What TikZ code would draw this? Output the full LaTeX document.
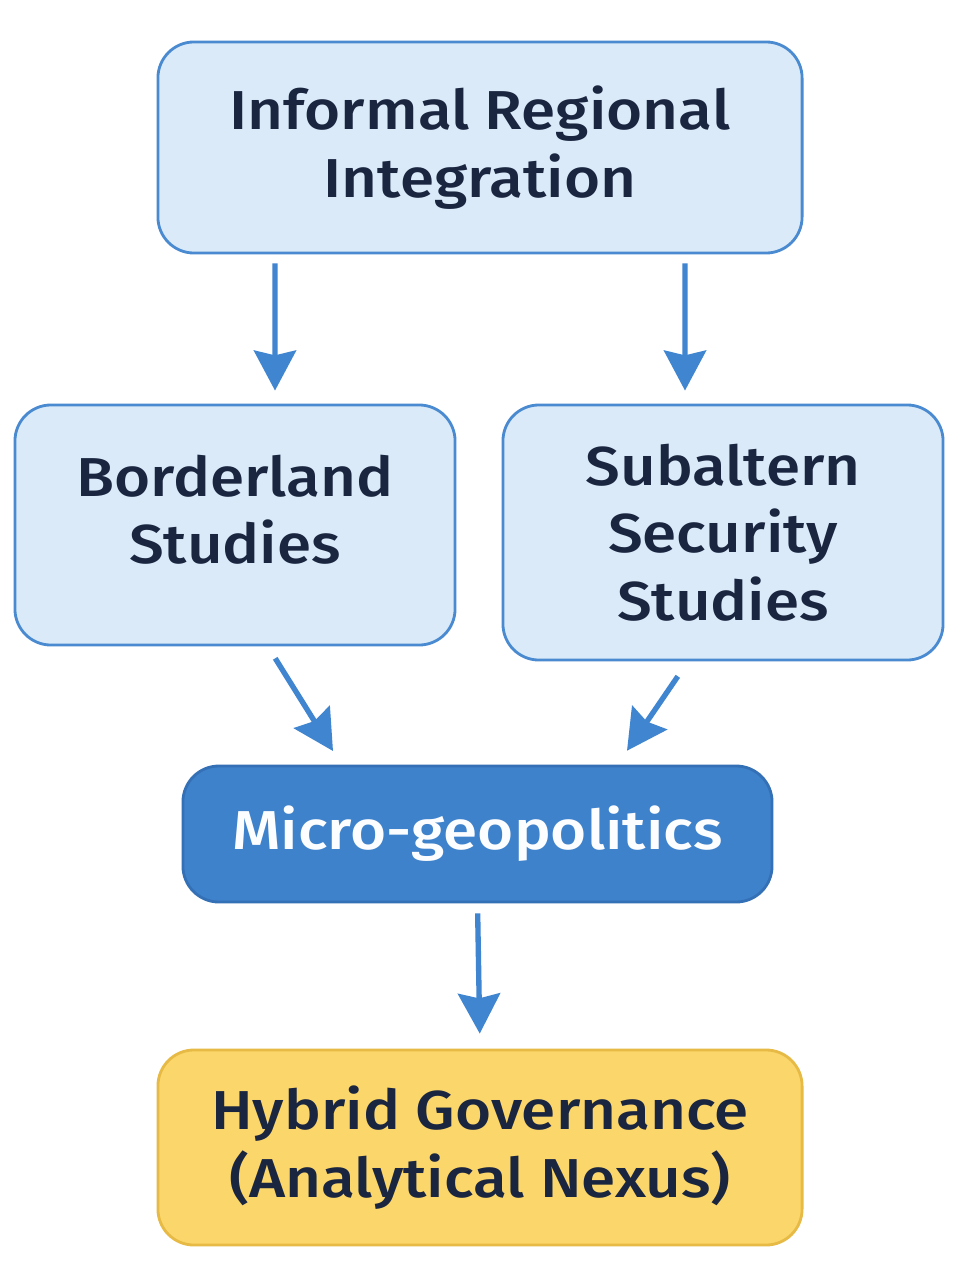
\documentclass[tikz,border=0pt]{standalone}
\usepackage{fontspec}
\setmainfont{Fira Sans}[UprightFont={* Medium}, FakeStretch=1.13]
\usetikzlibrary{arrows.meta}
\definecolor{boxfill}{HTML}{DAEAF8}
\definecolor{boxline}{HTML}{4A8AD0}
\definecolor{arrowblue}{HTML}{3F85CF}
\definecolor{microfill}{HTML}{3F82CC}
\definecolor{microline}{HTML}{3470B5}
\definecolor{nexusfill}{HTML}{FBD66A}
\definecolor{nexusline}{HTML}{E6BA45}
\definecolor{inktext}{HTML}{1A2540}
\begin{document}
\begin{tikzpicture}[x=0.025cm, y=-0.025cm,
			box/.style={draw=boxline, fill=boxfill, line width=2pt, rounded corners=0.9cm,
				text=inktext, align=center, font=\fontsize{39}{48}\selectfont},
			micro/.style={box, draw=microline, fill=microfill, text=white!93!boxfill},
			nexus/.style={box, draw=nexusline, fill=nexusfill},
			arr/.style={draw=arrowblue, line width=3.8pt,
				-{Stealth[length=1cm, width=1.05cm, inset=0.12cm]}}]
			\useasboundingbox[fill=white] (0,0) rectangle (968,1275);
			\node[box, minimum width=16.1cm, minimum height=5.275cm] (informal) at (480,147.5) {Informal Regional\\Integration};
			\node[box, minimum width=11cm, minimum height=6cm] (border) at (235,525) {Borderland\\Studies\\[-0.9cm]};
			\node[box, minimum width=11cm, minimum height=6.375cm] (subaltern) at (723,532.5) {Subaltern\\Security\\Studies};
			\node[micro, minimum width=14.725cm, minimum height=3.4cm] (microgeo) at (477.5,834) {Micro-geopolitics};
			\node[nexus, minimum width=16.1cm, minimum height=4.875cm] (hybrid) at (480,1147.5) {Hybrid Governance\\(Analytical Nexus)};
			\draw[arr, shorten <=0.225cm, shorten >=0.325cm] ([xshift=-5.125cm]informal.south) -- ([xshift=1cm]border.north);
			\draw[arr, shorten <=0.225cm, shorten >=0.325cm] ([xshift=5.125cm]informal.south) -- ([xshift=-0.95cm]subaltern.north);
			\draw[arr, shorten <=0.35cm, shorten >=0.4cm] ([xshift=0.82cm]border.south) -- ([xshift=-3.4cm]microgeo.north);
			\draw[arr, shorten <=0.45cm, shorten >=0.42cm] ([xshift=-0.875cm]subaltern.south) -- ([xshift=3.5cm]microgeo.north);
			\draw[arr, shorten <=0.25cm, shorten >=0.375cm] (microgeo.south) -- (hybrid.north);
		\end{tikzpicture}
\end{document}
